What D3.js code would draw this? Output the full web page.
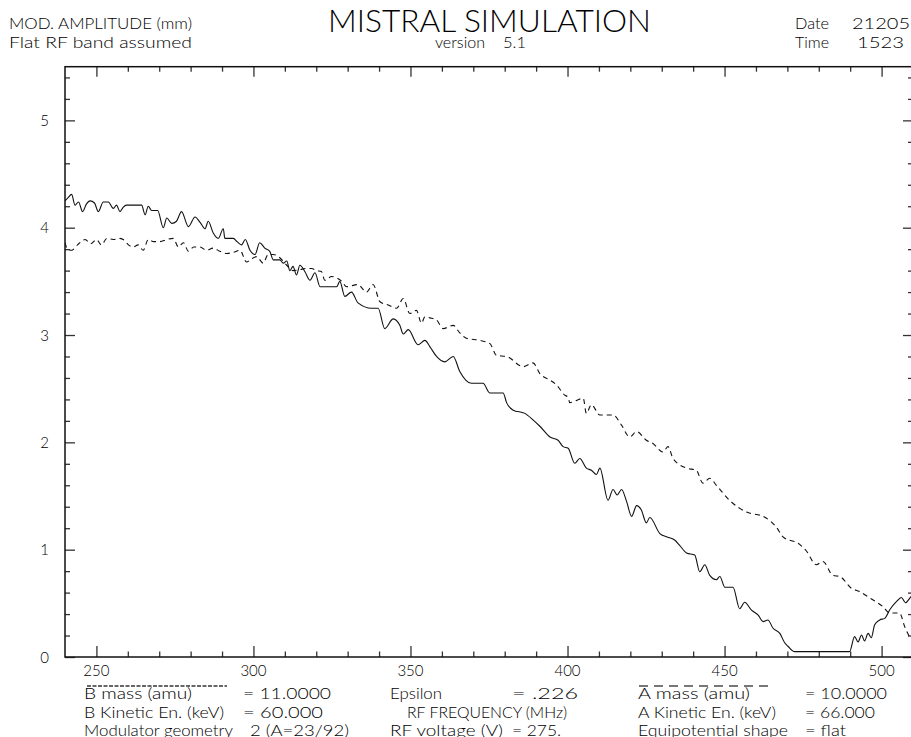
<!DOCTYPE html>
<html>
<head>
<meta charset="utf-8">
<script src="https://cdn.jsdelivr.net/npm/d3@7"></script>
<style>
  html, body { margin: 0; padding: 0; background: #fff; }
  svg { display: block; }
  text { font-family: "Lato", "Open Sans", "DejaVu Sans", sans-serif; font-weight: 300; fill: #000; }
</style>
</head>
<body>
<svg id="chart" width="911" height="737"></svg>
<script>
// RF frequency (MHz) and modulation amplitude (mm) for beam B (solid line)
const freqB = [240, 241, 242.1, 243.2, 244.3, 245.6, 246.8, 248, 249.4, 250.6, 252.2, 253.8, 255.4, 256.4, 257.5, 258.5, 259.6,
  264.4, 265.5, 266.5, 267.6, 269.5, 271.3, 272.4, 274, 275.5, 277.1, 279.3, 281.4, 283, 284.6, 285.6, 287.2, 288.8,
  290.4, 290.9, 293.6, 294.8, 296.2, 297.4, 298.9, 300.5, 302, 303.6, 305.2, 306.3, 308.4, 309.5, 310.6, 311.6, 312.6,
  313.7, 314.8, 316.4, 318, 319.6, 321.2, 326.5, 327.5, 329.1, 331.2, 333.3, 337.6, 339.7, 341.8, 344.5, 346.6, 347.7,
  349.3, 352.4, 354.6, 356.2, 358.3, 360.9, 363.6, 365.7, 369.4, 373.1, 375.3, 379.5, 380.6, 382.7, 386.4, 389, 391.2,
  394.4, 397, 398.6, 400.2, 402.3, 403.9, 406, 407.6, 409.2, 410.3, 412.9, 414.5, 415.8, 417.2, 418.8, 420.4, 422,
  423.5, 425.1, 426.2, 429.4, 431.5, 434.1, 435.7, 437.9, 440.5, 442.1, 443.7, 445.3, 447.4, 448.5, 450.1, 452.7,
  454.8, 456.4, 458.5, 460.7, 462.3, 463.8, 465.4, 467.6, 469.2, 470.2, 472.3, 489.8, 491.4, 492.5, 493.6, 494.6,
  495.7, 496.7, 497.8, 499.4, 501, 502.6, 504.7, 506.3, 507.6, 509.3, 510];
const ampB = [4.25, 4.28, 4.31, 4.21, 4.24, 4.15, 4.22, 4.25, 4.23, 4.15, 4.24, 4.24, 4.18, 4.21, 4.15, 4.19, 4.21,
  4.21, 4.12, 4.20, 4.16, 4.16, 4.00, 4.09, 4.04, 4.06, 4.15, 4.01, 4.10, 4.05, 3.99, 4.06, 3.95, 3.90,
  3.99, 3.90, 3.90, 3.87, 3.84, 3.89, 3.79, 3.75, 3.86, 3.81, 3.78, 3.70, 3.70, 3.67, 3.69, 3.60, 3.64,
  3.56, 3.65, 3.59, 3.51, 3.58, 3.45, 3.45, 3.50, 3.36, 3.40, 3.30, 3.25, 3.25, 3.06, 3.15, 3.09, 3.01,
  3.05, 2.91, 2.95, 2.89, 2.80, 2.75, 2.80, 2.66, 2.55, 2.55, 2.46, 2.46, 2.37, 2.30, 2.27, 2.21, 2.15,
  2.05, 2.02, 1.96, 1.945, 1.805, 1.85, 1.76, 1.74, 1.70, 1.76, 1.46, 1.56, 1.51, 1.56, 1.45, 1.31, 1.41,
  1.37, 1.25, 1.30, 1.15, 1.12, 1.09, 1.04, 0.97, 0.95, 0.795, 0.86, 0.76, 0.72, 0.75, 0.65, 0.65,
  0.45, 0.51, 0.44, 0.39, 0.33, 0.345, 0.27, 0.22, 0.13, 0.10, 0.05, 0.05, 0.19, 0.14, 0.205, 0.15,
  0.22, 0.18, 0.30, 0.345, 0.36, 0.44, 0.515, 0.555, 0.505, 0.56, 0.58];

// RF frequency (MHz) and modulation amplitude (mm) for beam A (dashed line)
const freqA = [240, 240.8, 242.1, 244, 246.4, 248.2, 250, 251.6, 253.3, 255.4, 257.5, 259, 260.2, 261.7, 263.3, 264.9,
  266.5, 268.3, 270.2, 272.4, 274.5, 276.1, 277.7, 279.3, 281, 283, 285, 287.2, 289.3, 291.5, 293.6, 295.7, 297.8,
  299.4, 301, 303.1, 304.7, 306.3, 308.4, 310.6, 312.6, 314.8, 316.9, 318.5, 320.1, 321.7, 322.7, 324.9, 328.1,
  329.7, 333.3, 336, 338.1, 340.3, 342.9, 345.6, 347.7, 349.8, 351.9, 353.5, 354.6, 356.2, 358.3, 360.4, 363.6,
  365.7, 367.8, 372.1, 375.3, 377.4, 380.6, 385.9, 389, 391.2, 394.4, 396.5, 399.1, 400.2, 400.7, 405, 406, 407.6,
  410.3, 414.5, 417.2, 419.8, 422, 425.1, 427.2, 430.4, 432, 433.6, 437.9, 441, 443.1, 445.3, 447.4, 451.6, 457,
  462.3, 466.5, 468.6, 473.9, 476, 479.2, 481.3, 484.5, 486.7, 490.4, 493, 496.2, 500.4, 502.6, 505.7, 507.4,
  508.9, 510];
const ampA = [3.86, 3.80, 3.79, 3.84, 3.89, 3.85, 3.89, 3.84, 3.90, 3.89, 3.90, 3.88, 3.84, 3.82, 3.84, 3.79,
  3.89, 3.87, 3.87, 3.89, 3.90, 3.82, 3.86, 3.78, 3.82, 3.82, 3.79, 3.81, 3.78, 3.76, 3.77, 3.79, 3.68,
  3.71, 3.73, 3.67, 3.75, 3.75, 3.72, 3.65, 3.60, 3.61, 3.62, 3.62, 3.60, 3.59, 3.51, 3.545, 3.50,
  3.45, 3.47, 3.40, 3.47, 3.31, 3.28, 3.25, 3.34, 3.20, 3.23, 3.11, 3.17, 3.16, 3.14, 3.06, 3.09,
  3.02, 2.97, 2.95, 2.92, 2.81, 2.80, 2.705, 2.74, 2.64, 2.58, 2.535, 2.44, 2.42, 2.37, 2.41, 2.27, 2.35,
  2.255, 2.255, 2.16, 2.05, 2.10, 2.02, 1.99, 1.91, 1.96, 1.85, 1.76, 1.74, 1.62, 1.665, 1.60, 1.46, 1.35,
  1.31, 1.21, 1.12, 1.05, 0.99, 0.86, 0.89, 0.76, 0.75, 0.64, 0.61, 0.55, 0.47, 0.41, 0.41, 0.28,
  0.19, 0.15];

// Axis ticks and labels
const xMajorTicks = [250, 300, 350, 400, 450, 500];
const xMinorTicks = [260, 270, 280, 290, 310, 320, 330, 340, 360, 370, 380, 390, 410, 420, 430, 440, 460, 470, 480, 490];
const yMajorTicks = [0, 1, 2, 3, 4, 5];
const yMinorTicks = [0.2, 0.4, 0.6, 0.8, 1.2, 1.4, 1.6, 1.8, 2.2, 2.4, 2.6, 2.8, 3.2, 3.4, 3.6, 3.8, 4.2, 4.4, 4.6, 4.8, 5.2, 5.4];

// Header and parameter block text
const headerLeft = ["MOD. AMPLITUDE (mm)", "Flat RF band assumed"];
const titleText = "MISTRAL SIMULATION";
const versionText = ["version", "5.1"];
const headerRight = [["Date", "21205"], ["Time", "1523"]];
const paramRows = [
  ["B mass (amu)", "= 11.0000", "Epsilon", "= .226", "A mass (amu)", "= 10.0000"],
  ["B Kinetic En. (keV)", "= 60.000", "RF FREQUENCY (MHz)", "", "A Kinetic En. (keV)", "= 66.000"],
  ["Modulator geometry", "2 (A=23/92)", "RF voltage (V)", "= 275.", "Equipotential shape", "= flat"]
];

const svg = d3.select("#chart");
svg.append("rect").attr("width", 911).attr("height", 737).attr("fill", "#fff");

const plotLeft = 65, plotRight = 913, plotTop = 66.7, plotBottom = 657;
const x = d3.scaleLinear().domain([240, 510]).range([plotLeft, plotRight]);
const y = d3.scaleLinear().domain([0, 5.5]).range([plotBottom, plotTop]);

// Inward-pointing tick marks on all four sides
function tickAxis(axisFn, scale, values, size, transform, cls) {
  const g = svg.append("g").attr("class", cls).attr("transform", transform)
    .call(axisFn(scale).tickValues(values).tickSize(size).tickFormat(""));
  g.select(".domain").remove();
  g.selectAll("line").attr("stroke", "#333").attr("stroke-width", 1.3);
  return g;
}
tickAxis(d3.axisBottom, x, xMajorTicks, -11, `translate(0,${plotBottom})`, "xb-major");
tickAxis(d3.axisBottom, x, xMinorTicks, -5.5, `translate(0,${plotBottom})`, "xb-minor");
tickAxis(d3.axisTop, x, xMajorTicks, -10, `translate(0,${plotTop})`, "xt-major");
tickAxis(d3.axisTop, x, xMinorTicks, -5, `translate(0,${plotTop})`, "xt-minor");
tickAxis(d3.axisLeft, y, yMajorTicks, -10, `translate(${plotLeft},0)`, "yl-major");
tickAxis(d3.axisLeft, y, yMinorTicks, -5, `translate(${plotLeft},0)`, "yl-minor");
tickAxis(d3.axisRight, y, yMajorTicks, -10, `translate(${plotRight},0)`, "yr-major");
tickAxis(d3.axisRight, y, yMinorTicks, -5, `translate(${plotRight},0)`, "yr-minor");

// Plot frame
svg.append("rect")
  .attr("x", plotLeft).attr("y", plotTop)
  .attr("width", plotRight - plotLeft).attr("height", plotBottom - plotTop)
  .attr("fill", "none").attr("stroke", "#111").attr("stroke-width", 1.5);

// Tick labels
svg.append("g").selectAll("text").data(xMajorTicks).join("text")
  .attr("x", d => x(d)).attr("y", 676)
  .attr("text-anchor", "middle").attr("font-size", 15)
  .text(d => d);
svg.append("g").selectAll("text").data(yMajorTicks).join("text")
  .attr("x", 49).attr("y", d => y(d) + 5.5)
  .attr("text-anchor", "end").attr("font-size", 15)
  .text(d => d);

// Curves
const line = d3.line().curve(d3.curveMonotoneX).x(d => x(d[0])).y(d => y(d[1]));
svg.append("clipPath").attr("id", "plot-clip")
  .append("rect").attr("x", plotLeft).attr("y", plotTop)
  .attr("width", plotRight - plotLeft).attr("height", plotBottom - plotTop);
svg.append("path")
  .datum(d3.zip(freqA, ampA))
  .attr("d", line).attr("clip-path", "url(#plot-clip)")
  .attr("fill", "none").attr("stroke", "#111").attr("stroke-width", 1.1)
  .attr("stroke-dasharray", "5,4");
svg.append("path")
  .datum(d3.zip(freqB, ampB))
  .attr("d", line).attr("clip-path", "url(#plot-clip)")
  .attr("fill", "none").attr("stroke", "#111").attr("stroke-width", 1.1);

// Header
function label(txt, xPos, yPos, size, opts = {}) {
  const t = svg.append("text").attr("x", xPos).attr("y", yPos).attr("font-size", size).text(txt);
  if (opts.width) t.attr("textLength", opts.width).attr("lengthAdjust", "spacingAndGlyphs");
  return t;
}
label(headerLeft[0], 9, 29, 15, { width: 183 });
label(headerLeft[1], 9, 48, 15, { width: 183 });
label(titleText, 328, 32, 32, { width: 323 });
label(versionText[0], 435, 48, 15, { width: 50 });
label(versionText[1], 503, 48, 15, { width: 23 });
label(headerRight[0][0], 795, 29, 15, { width: 34 });
label(headerRight[0][1], 852, 29, 15, { width: 58 });
label(headerRight[1][0], 795, 48, 15, { width: 34 });
label(headerRight[1][1], 857, 48, 15, { width: 47 });

// Parameter block below the axis
const colX = [84, 243, 390, 512, 638, 805];
const rowY = [699, 717.5, 736];
const colWidths = [
  [108, 88, 52, 66, 112, 82],
  [140, 80, 160, 0, 138, 70],
  [149, 99, 113, 49, 150, 41]
];
paramRows.forEach((row, ri) => {
  row.forEach((txt, ci) => {
    if (!txt) return;
    const xPos = (ri === 1 && ci === 2) ? 407 : (ri === 2 && ci === 1) ? 250 : colX[ci];
    label(txt, xPos, rowY[ri], 15, { width: colWidths[ri][ci] });
  });
});

// Line keys over the mass entries
svg.append("line").attr("x1", 87).attr("x2", 227).attr("y1", 686).attr("y2", 686)
  .attr("stroke", "#666").attr("stroke-width", 2).attr("stroke-dasharray", "4,1.5");
svg.append("line").attr("x1", 639).attr("x2", 770).attr("y1", 686).attr("y2", 686)
  .attr("stroke", "#777").attr("stroke-width", 2).attr("stroke-dasharray", "9,6");
</script>
</body>
</html>
